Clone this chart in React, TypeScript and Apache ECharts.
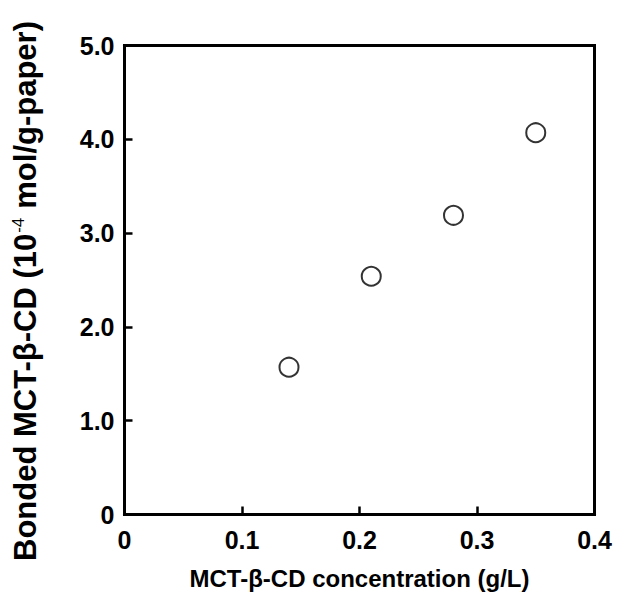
import React, { useEffect, useRef } from "react";
import * as echarts from "echarts";

const concentration = [0.14, 0.21, 0.28, 0.35];
const bonded = [1.57, 2.54, 3.19, 4.07];
const xTicks = [0, 0.1, 0.2, 0.3, 0.4];
const yTicks = [0, 1, 2, 3, 4, 5];
const xTitle = "MCT-β-CD concentration (g/L)";
const yTitleParts = ["Bonded MCT-β-CD (10", "-4", "mol/g-paper)"];

export default function App() {
  const ref = useRef<HTMLDivElement>(null);
  useEffect(() => {
    document.body.style.margin = "0";
    const chart = echarts.init(ref.current!, undefined, { renderer: "svg" });
    const font = "Liberation Sans, Arial, sans-serif";
    const fmt = (v: number) => (v === 0 ? "0" : v.toFixed(1));
    chart.setOption({
      animation: false,
      backgroundColor: "#fff",
      grid: {
        left: 124.5,
        top: 45.5,
        right: 24.5,
        bottom: 91.5,
        show: true,
        borderColor: "#000",
        borderWidth: 3,
      },
      graphic: [
        {
          type: "text",
          x: 25,
          y: 291,
          rotation: Math.PI / 2,
          style: {
            text: `${yTitleParts[0]}{sup|${yTitleParts[1]}}${yTitleParts[2]}`,
            fontFamily: font,
            fontWeight: "bold",
            fontSize: 31,
            fill: "#000",
            align: "center",
            verticalAlign: "middle",
            rich: {
              sup: {
                fontFamily: font,
                fontSize: 17,
                fontWeight: "normal",
                fill: "#000",
                verticalAlign: "top",
                padding: [0, 9, 12, 1],
              },
            },
          },
        },
      ],
      xAxis: {
        type: "value",
        min: xTicks[0],
        max: xTicks[xTicks.length - 1],
        interval: 0.1,
        name: xTitle,
        nameLocation: "middle",
        nameGap: 52,
        nameTextStyle: { fontFamily: font, fontWeight: "bold", fontSize: 24, color: "#000" },
        axisLine: { lineStyle: { color: "#000", width: 3 } },
        axisTick: { inside: true, length: 8, lineStyle: { color: "#000", width: 2.5 } },
        axisLabel: {
          margin: 13,
          fontFamily: font,
          fontWeight: "bold",
          fontSize: 25,
          color: "#000",
          formatter: fmt,
        },
        splitLine: { show: false },
      },
      yAxis: {
        type: "value",
        min: yTicks[0],
        max: yTicks[yTicks.length - 1],
        interval: 1,
        axisLine: { lineStyle: { color: "#000", width: 3 } },
        axisTick: { inside: true, length: 8, lineStyle: { color: "#000", width: 2.5 } },
        axisLabel: {
          margin: 10,
          fontFamily: font,
          fontWeight: "bold",
          fontSize: 25,
          color: "#000",
          formatter: fmt,
        },
        splitLine: { show: false },
      },
      series: [
        {
          type: "scatter",
          data: concentration.map((x, i) => [x, bonded[i]]),
          symbol: "circle",
          symbolSize: 19,
          itemStyle: { color: "#fff", borderColor: "#000", borderWidth: 2 },
        },
      ],
    });
    return () => chart.dispose();
  }, []);
  return <div ref={ref} style={{ width: 619, height: 606 }} />;
}
